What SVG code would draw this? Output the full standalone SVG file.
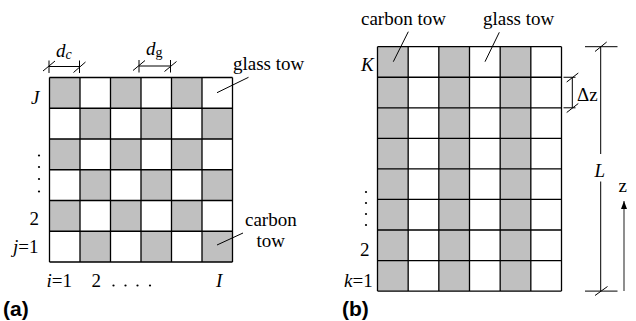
<svg xmlns="http://www.w3.org/2000/svg" width="636" height="321" viewBox="0 0 636 321">
<style>
.g{fill:#c0c0c0;stroke:none}
.grid{fill:none;stroke:#000;stroke-width:1.3}
.dim{fill:none;stroke:#000;stroke-width:1}
.t{font-family:"Liberation Serif",serif;font-size:19px;fill:#000}
.i{font-style:italic}
.lab{font-family:"Liberation Sans",Arial,sans-serif;font-size:21px;font-weight:bold;fill:#000}
.dot{fill:#000}
</style>
<defs>
<marker id="ah" markerWidth="8" markerHeight="6" refX="8" refY="3" orient="auto" markerUnits="userSpaceOnUse" viewBox="0 0 8 6">
<path d="M0,0 L8,3 L0,6 Z" fill="#000"/>
</marker>
</defs>
<rect width="636" height="321" fill="#fff"/>
<g id="panel-a">
<g id="grid-a">
<rect class="g" x="49.5" y="77.5" width="30.5" height="30.75"/>
<rect class="g" x="110.5" y="77.5" width="30.5" height="30.75"/>
<rect class="g" x="171.5" y="77.5" width="30.5" height="30.75"/>
<rect class="g" x="80" y="108.25" width="30.5" height="30.75"/>
<rect class="g" x="141" y="108.25" width="30.5" height="30.75"/>
<rect class="g" x="202" y="108.25" width="30.5" height="30.75"/>
<rect class="g" x="49.5" y="139" width="30.5" height="30.75"/>
<rect class="g" x="110.5" y="139" width="30.5" height="30.75"/>
<rect class="g" x="171.5" y="139" width="30.5" height="30.75"/>
<rect class="g" x="80" y="169.75" width="30.5" height="30.75"/>
<rect class="g" x="141" y="169.75" width="30.5" height="30.75"/>
<rect class="g" x="202" y="169.75" width="30.5" height="30.75"/>
<rect class="g" x="49.5" y="200.5" width="30.5" height="30.75"/>
<rect class="g" x="110.5" y="200.5" width="30.5" height="30.75"/>
<rect class="g" x="171.5" y="200.5" width="30.5" height="30.75"/>
<rect class="g" x="80" y="231.25" width="30.5" height="30.75"/>
<rect class="g" x="141" y="231.25" width="30.5" height="30.75"/>
<rect class="g" x="202" y="231.25" width="30.5" height="30.75"/>
<path class="grid" d="M49.5,77.5V262M80,77.5V262M110.5,77.5V262M141,77.5V262M171.5,77.5V262M202,77.5V262M232.5,77.5V262M49.5,77.5H232.5M49.5,108.25H232.5M49.5,139H232.5M49.5,169.75H232.5M49.5,200.5H232.5M49.5,231.25H232.5M49.5,262H232.5"/>
</g>
<g id="dim-dc">
<path class="dim" d="M49,66.5H79.5M49,60.5V73M79.5,60.5V73M43,71L55,61M73.5,72.5L85.5,62"/>
<text class="t i" x="56" y="56.5">d<tspan font-size="14" dy="2">c</tspan></text>
</g>
<g id="dim-dg">
<path class="dim" d="M139,66H170.5M139,60V72.5M170.5,60V72.5M133,70.5L145,60.5M164.5,71.5L176.5,61.5"/>
<text class="t" x="146" y="55"><tspan class="i">d</tspan><tspan font-size="14" dy="2">g</tspan></text>
</g>
<g id="label-glass-a">
<path class="dim" d="M217,92.7L248.5,77.3"/>
<text class="t" x="233" y="70">glass tow</text>
</g>
<g id="label-carbon-a">
<path class="dim" d="M217,245L243,233"/>
<text class="t" x="245" y="226">carbon</text>
<text class="t" x="256.5" y="247">tow</text>
</g>
<g id="axis-a">
<text class="t i" x="31" y="104">J</text>
<circle class="dot" cx="39" cy="155.5" r="1.1"/>
<circle class="dot" cx="39" cy="167" r="1.1"/>
<circle class="dot" cx="39" cy="179" r="1.1"/>
<circle class="dot" cx="39" cy="191.5" r="1.1"/>
<text class="t" x="29.5" y="225">2</text>
<text class="t" x="13" y="253"><tspan class="i">j</tspan>=1</text>
<text class="t" x="46.5" y="287"><tspan class="i">i</tspan>=1</text>
<text class="t" x="91.5" y="287">2</text>
<circle class="dot" cx="113.5" cy="285.5" r="1.1"/>
<circle class="dot" cx="125.5" cy="285.5" r="1.1"/>
<circle class="dot" cx="137.5" cy="285.5" r="1.1"/>
<circle class="dot" cx="150" cy="285.5" r="1.1"/>
<text class="t i" x="216" y="287">I</text>
</g>
<text class="lab" x="3" y="316">(a)</text>
</g>
<g id="panel-b">
<g id="grid-b">
<rect class="g" x="377.5" y="46.7" width="30.67" height="244.4"/>
<rect class="g" x="438.83" y="46.7" width="30.67" height="244.4"/>
<rect class="g" x="500.17" y="46.7" width="30.67" height="244.4"/>
<path class="grid" d="M377.5,46.7V291.1M408.17,46.7V291.1M438.83,46.7V291.1M469.5,46.7V291.1M500.17,46.7V291.1M530.83,46.7V291.1M561.5,46.7V291.1M377.5,46.7H561.5M377.5,77.25H561.5M377.5,107.8H561.5M377.5,138.35H561.5M377.5,168.9H561.5M377.5,199.45H561.5M377.5,230H561.5M377.5,260.55H561.5M377.5,291.1H561.5"/>
</g>
<g id="label-carbon-b">
<path class="dim" d="M393.3,61.7L408.3,31.7"/>
<text class="t" x="361" y="25">carbon tow</text>
</g>
<g id="label-glass-b">
<path class="dim" d="M485,61.7L499.3,32.3"/>
<text class="t" x="483" y="25">glass tow</text>
</g>
<g id="dim-dz">
<path class="dim" d="M563.5,77.25H575.5M563.5,107.8H575.5M572.3,77.25V107.8M566.7,82L578.3,73M566.7,112.5L578.3,103.5"/>
<text class="t" x="577" y="101">Δz</text>
</g>
<g id="dim-L">
<path class="dim" d="M585,46.7H617.5M585,291.1H617.5M600.7,46.7V154M600.7,181.5V291.1M595,51.5L606.7,42M595,295.5L607.5,286.5"/>
<text class="t i" x="594.5" y="177">L</text>
</g>
<g id="axis-z">
<path d="M624,291V201" fill="none" stroke="#444" stroke-width="1.2" marker-end="url(#ah)"/>
<text class="t" x="618.5" y="192">z</text>
</g>
<g id="axis-b">
<text class="t i" x="361" y="71">K</text>
<circle class="dot" cx="366" cy="192" r="1.1"/>
<circle class="dot" cx="366" cy="203" r="1.1"/>
<circle class="dot" cx="366" cy="214" r="1.1"/>
<circle class="dot" cx="366" cy="225" r="1.1"/>
<text class="t" x="360" y="256">2</text>
<text class="t" x="344" y="287"><tspan class="i">k</tspan>=1</text>
</g>
<text class="lab" x="342" y="316">(b)</text>
</g>
</svg>
